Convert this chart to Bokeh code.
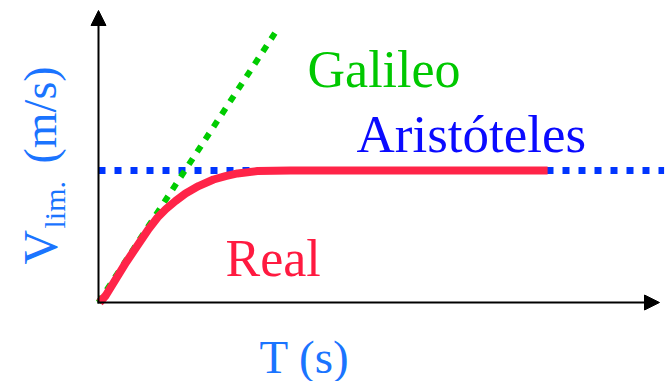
import numpy as np
from bokeh.plotting import figure
from bokeh.models import Range1d, Arrow, NormalHead
from bokeh.core.properties import value
from bokeh.embed import file_html
from bokeh.resources import INLINE

# ---- data (arbitrary units: time T, velocity V) ----
real_t = [0.02, 0.13, 0.495, 0.898, 1.054, 1.205, 1.375, 1.554, 1.786, 2.054, 2.268, 2.482, 2.839, 3.43, 8.02]
real_v = [0.0, 0.265, 1.527, 2.79, 3.22, 3.54, 3.845, 4.13, 4.41, 4.66, 4.79, 4.89, 4.98, 5.0, 5.0]
galileo_t = [0.0, 3.18]
galileo_v = [0.0, 10.3]
aristoteles_t = [0.0, 10.1]
aristoteles_v = [5.0, 5.0]
labels = ["Galileo", "Aristóteles", "Real"]

# ---- layout helpers (screen px -> data units) ----
OX, OY, KX, KY = 98.0, 302.0, 56.0, 26.4
SH = 14.0  # baseline correction for text rendering
def X(sx):
    return (sx - OX) / KX
def Y(sy):
    return (OY - sy) / KY

W, H = 665, 381
p = figure(width=W, height=H, output_backend="svg", toolbar_location=None,
           x_range=Range1d(X(0), X(W)), y_range=Range1d(Y(H), Y(0)),
           min_border=0, outline_line_color=None)
p.axis.visible = False
p.grid.visible = False
p.background_fill_color = "white"
p.border_fill_color = "white"

# axes with arrows
p.add_layout(Arrow(end=NormalHead(size=15, fill_color="black", line_color="black"),
                   x_start=X(98), y_start=Y(303), x_end=X(98), y_end=Y(10),
                   line_width=2, line_color="black"))
p.add_layout(Arrow(end=NormalHead(size=15, fill_color="black", line_color="black"),
                   x_start=X(97), y_start=Y(302), x_end=X(659), y_end=Y(302),
                   line_width=2, line_color="black"))

# series
p.line(aristoteles_t, aristoteles_v, line_color="#0035ff", line_width=7, line_dash="7 9")
p.line(galileo_t, galileo_v, line_color="#00cc00", line_width=6, line_dash="7 8")
p.line(real_t, real_v, line_color="#ff2448", line_width=8, line_join="round", line_cap="butt")

font = value("Liberation Serif")
p.text(x=[X(307)], y=[Y(83 - SH)], text=[labels[0]], text_color="#00c800",
       text_font=font, text_font_size="52px", text_baseline="alphabetic", text_align="left")
p.text(x=[X(356)], y=[Y(147 - SH)], text=[labels[1]], text_color="#0a0aff",
       text_font=font, text_font_size="53px", text_baseline="alphabetic", text_align="left")
p.text(x=[X(225)], y=[Y(272 - SH)], text=[labels[2]], text_color="#ff1a40",
       text_font=font, text_font_size="52px", text_baseline="alphabetic", text_align="left")

axis_col = "#1a74ff"
p.text(x=[X(259)], y=[Y(370 - SH)], text=["T (s)"], text_color=axis_col,
       text_font=font, text_font_size="47px", text_baseline="alphabetic", text_align="left")
p.text(x=[X(54 - SH)], y=[Y(264)], text=["V"], text_color=axis_col, angle=np.pi / 2,
       text_font=font, text_font_size="48px", text_baseline="alphabetic", text_align="left")
p.text(x=[X(63 - 9)], y=[Y(228)], text=["lim."], text_color=axis_col, angle=np.pi / 2,
       text_font=font, text_font_size="30px", text_baseline="alphabetic", text_align="left")
p.text(x=[X(54 - SH)], y=[Y(163)], text=["(m/s)"], text_color=axis_col, angle=np.pi / 2,
       text_font=font, text_font_size="46px", text_baseline="alphabetic", text_align="left")

open("out.html", "w").write(file_html(p, INLINE))
